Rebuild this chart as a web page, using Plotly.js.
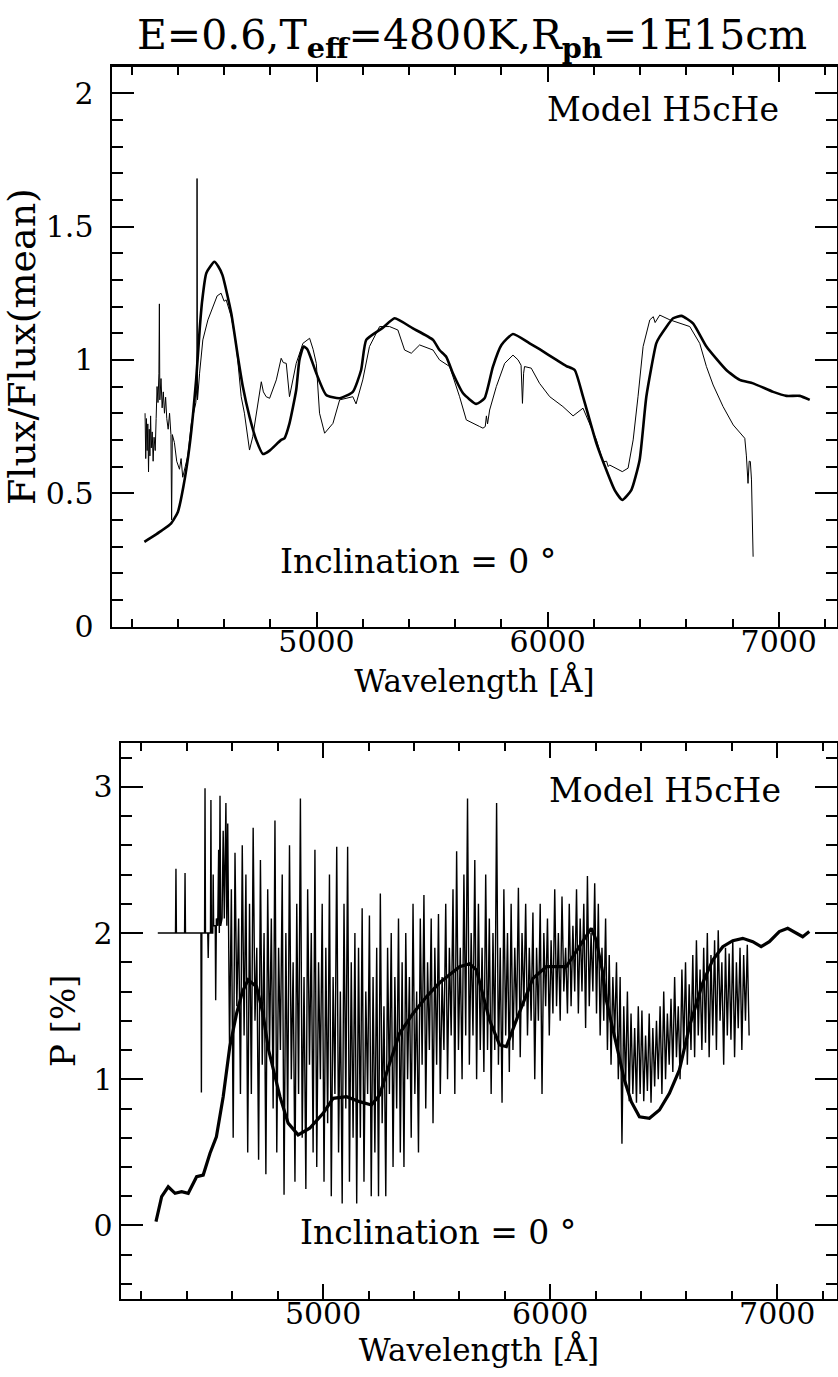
<!DOCTYPE html>
<html>
<head>
<meta charset="utf-8">
<script src="https://cdn.plot.ly/plotly-3.0.1.min.js"></script>
<style>html,body{margin:0;padding:0;background:#fff;}#chart{width:838px;height:1377px;}</style>
</head>
<body>
<div id="chart"></div>
<script>
// ---------- Top panel: normalised flux ----------
const fluxModelLam = [4255,4330,4371,4400,4424,4452,4479,4494,4505,4523,4558,4575,4593,4631,4660,4681,4710,4739,4768,4797,4847,4861,4883,4912,4926,4944,4960,4999,5042,5100,5157,5193,5215,5286,5338,5417,5504,5532,5561,5590,5634,5691,5727,5763,5800,5850,5922,5965,6038,6081,6117,6153,6211,6254,6290,6323,6362,6398,6427,6470,6485,6543,6579,6629,6687,6773,6831,6889,6976,7033,7091,7134];
const fluxModel = [0.318,0.36,0.387,0.43,0.525,0.687,0.925,1.11,1.22,1.325,1.368,1.35,1.318,1.175,1.01,0.90,0.787,0.70,0.647,0.66,0.70,0.706,0.762,0.887,1.0,1.05,1.04,0.95,0.868,0.856,0.88,0.962,1.075,1.12,1.156,1.118,1.075,1.037,1.012,0.95,0.875,0.835,0.856,0.974,1.056,1.097,1.062,1.04,1.0,0.977,0.962,0.862,0.687,0.587,0.512,0.475,0.512,0.625,0.862,1.062,1.087,1.156,1.165,1.137,1.05,0.962,0.925,0.912,0.88,0.865,0.865,0.85];

const fluxObsLam = [4258,4261,4264,4267,4270,4273,4276,4279,4282,4285,4289,4293,4297,4302,4306,4310,4314,4318,4320,4322,4327,4332,4337,4342,4347,4352,4358,4364,4370,4373,4376,4385,4395,4407,4414,4421,4432,4443,4458,4468,4478,4482,4483,4485,4494,4508,4530,4551,4570,4587,4600,4609,4631,4652,4674,4688,4710,4724,4739,4761,4770,4782,4797,4826,4847,4856,4869,4876,4883,4912,4941,4970,4985,4999,5013,5035,5071,5100,5157,5171,5200,5229,5273,5316,5352,5381,5410,5446,5504,5532,5576,5619,5648,5706,5720,5730,5735,5740,5749,5778,5814,5850,5872,5885,5891,5896,5900,5929,5965,6009,6066,6110,6153,6211,6240,6255,6262,6268,6297,6323,6348,6370,6391,6413,6442,6457,6465,6485,6529,6571,6615,6658,6687,6716,6759,6803,6853,6860,6867,6872,6877,6882,6889];
const fluxObs = [0.80,0.63,0.78,0.66,0.76,0.58,0.74,0.64,0.79,0.67,0.73,0.62,0.71,0.66,0.78,0.90,0.84,0.95,1.21,0.85,0.93,0.82,0.88,0.80,0.86,0.78,0.74,0.80,0.72,0.40,0.72,0.69,0.62,0.59,0.63,0.56,0.60,0.64,0.76,0.80,0.84,0.90,1.68,0.85,0.95,1.075,1.15,1.20,1.24,1.25,1.22,1.225,1.162,1.062,0.862,0.80,0.662,0.712,0.80,0.918,0.88,0.862,0.856,0.925,1.006,0.99,0.987,0.93,0.862,0.987,1.062,1.081,1.04,0.987,0.80,0.725,0.762,0.85,0.862,0.835,0.925,1.05,1.125,1.125,1.112,1.037,1.025,1.056,1.037,1.0,0.975,0.862,0.775,0.75,0.744,0.75,0.79,0.76,0.812,0.90,0.987,1.018,1.0,0.98,0.837,0.95,0.975,0.969,0.912,0.862,0.825,0.79,0.819,0.70,0.618,0.62,0.60,0.606,0.594,0.581,0.594,0.70,0.862,1.05,1.15,1.162,1.14,1.168,1.15,1.137,1.125,1.062,0.975,0.906,0.825,0.756,0.706,0.64,0.537,0.62,0.619,0.55,0.262];

// ---------- Bottom panel: polarisation ----------
const polModelLam = [4264,4289,4318,4348,4377,4406,4443,4472,4502,4530,4560,4589,4619,4645,4670,4707,4735,4760,4810,4846,4890,4941,5000,5044,5103,5161,5213,5249,5293,5337,5396,5455,5513,5560,5601,5645,5675,5733,5777,5807,5851,5924,5983,6071,6129,6181,6202,6232,6247,6291,6327,6357,6393,6437,6481,6525,6569,6613,6672,6716,6760,6804,6848,6892,6929,6965,7009,7046,7083,7112,7141];
const polModel = [0.026,0.197,0.265,0.22,0.231,0.22,0.334,0.345,0.494,0.607,0.881,1.223,1.45,1.60,1.68,1.633,1.45,1.20,0.881,0.70,0.62,0.665,0.767,0.87,0.881,0.847,0.824,0.893,1.11,1.315,1.45,1.565,1.66,1.72,1.77,1.79,1.748,1.405,1.235,1.223,1.405,1.69,1.77,1.77,1.907,2.033,1.953,1.725,1.542,1.246,0.995,0.847,0.744,0.733,0.79,0.904,1.064,1.36,1.66,1.816,1.907,1.948,1.964,1.941,1.907,1.941,2.01,2.033,1.999,1.975,2.01];

// observed polarisation: flat start, then the noisy spectrum
const polObsLam = [4272,4350,4352,4354,4390,4392,4394,4462,4464,4466,4478,4480,4482,4492,4494,4496,4504,4506,4508,4514,4516,4518,4525,4527,4530,4536,4540,4543,4546,4549,4555,4560,4565,4572,4576,
4580,4588,4596,4604,4612,4620,4628,4636,4644,4652,4660,4668,
4676,4684,4692,4700,4708,4716,4724,4732,4740,4748,4756,4764,
4772,4780,4788,4796,4804,4812,4820,4828,4836,4844,4852,4860,
4868,4876,4884,4892,4900,4908,4916,4924,4932,4940,4948,4956,
4964,4972,4980,4988,4996,5004,5012,5020,5028,5036,5044,5052,
5060,5068,5076,5084,5092,5100,5108,5116,5124,5132,5140,5148,
5156,5164,5172,5180,5188,5196,5204,5212,5220,5228,5236,5244,
5252,5260,5268,5276,5284,5292,5300,5308,5316,5324,5332,5340,
5348,5356,5364,5372,5380,5388,5396,5404,5412,5420,5428,5436,
5444,5452,5460,5468,5476,5484,5492,5500,5508,5516,5524,5532,
5540,5548,5556,5564,5572,5580,5588,5596,5604,5612,5620,5628,
5636,5644,5652,5660,5668,5676,5684,5692,5700,5708,5716,5724,
5732,5740,5748,5756,5764,5772,5780,5788,5796,5804,5812,5820,
5828,5836,5844,5852,5860,5868,5876,5884,5892,5900,5908,5916,
5924,5932,5940,5948,5956,5964,5972,5980,5988,5996,6004,6012,
6020,6028,6036,6044,6052,6060,6068,6076,6084,6092,6100,6108,
6116,6124,6132,6140,6148,6156,6164,6172,6180,6188,6196,6204,
6212,6220,6228,6236,6244,6252,6260,6268,6276,6284,6292,6300,
6308,6316,6324,6332,6340,6348,6356,6364,6372,6380,6388,6396,
6404,6412,6420,6428,6436,6444,6452,6460,6468,6476,6484,6492,
6500,6508,6516,6524,6532,6540,6548,6556,6564,6572,6580,6588,
6596,6604,6612,6620,6628,6636,6644,6652,6660,6668,6676,6684,
6692,6700,6708,6716,6724,6732,6740,6748,6756,6764,6772,6780,
6788,6796,6804,6812,6820,6828,6836,6844,6852,6860,6868,6876];
const polObs = [2.0,2.0,2.44,2.0,2.0,2.41,2.0,2.0,0.91,2.0,2.0,2.99,2.0,2.0,1.83,2.0,2.0,2.91,2.0,2.0,2.4,2.05,2.05,1.54,2.1,2.05,2.57,2.0,2.94,2.05,2.1,2.7,2.1,2.89,2.05,
2.75,1.2,2.3,0.6,2.55,1.5,2.1,0.9,2.6,1.3,2.4,0.5,
2.2,0.9,2.72,1.4,1.9,0.45,2.5,1.1,2.0,0.35,2.3,1.2,
2.1,0.8,2.77,0.5,1.9,1.2,2.4,0.21,2.0,0.7,2.6,1.0,
1.8,0.3,2.2,0.9,2.92,0.6,1.7,0.25,2.3,1.1,2.0,0.5,
2.57,0.4,1.8,1.0,2.2,0.3,1.9,0.7,2.4,0.2,1.7,0.9,
2.59,0.5,1.6,0.15,2.2,0.8,2.59,0.3,1.8,0.6,2.0,0.15,
1.9,0.6,2.17,0.3,1.6,0.9,2.12,0.2,1.7,0.5,1.9,0.2,
2.27,0.7,1.5,0.2,1.9,0.9,2.0,0.4,1.7,0.8,2.1,0.5,
1.8,0.4,2.0,1.0,1.7,0.6,2.2,0.9,1.6,0.5,2.1,1.1,
2.26,0.8,1.8,1.2,2.1,0.7,1.9,1.1,2.13,0.9,1.7,1.2,
2.2,1.0,1.9,1.3,2.3,0.9,2.56,1.2,1.9,1.0,2.4,1.3,
2.92,1.1,2.0,1.3,2.5,1.0,2.2,1.2,1.9,1.05,2.4,1.2,
2.1,0.9,2.0,1.2,2.89,1.1,1.9,0.84,2.3,1.3,2.0,1.05,
2.2,1.2,1.9,1.4,2.31,1.15,2.0,1.5,2.2,1.3,1.9,1.4,
2.14,1.0,1.9,1.4,2.2,0.9,2.0,1.5,2.1,1.3,1.95,1.45,
2.3,1.5,2.0,1.4,2.25,1.6,1.9,1.45,2.2,1.5,2.05,1.6,
2.3,1.45,2.1,1.6,2.2,1.35,2.39,1.5,2.0,1.6,2.34,1.45,
2.2,1.3,1.9,1.4,2.1,1.2,1.85,1.1,1.7,1.3,1.8,1.0,
1.7,0.56,1.5,0.95,1.6,0.85,1.45,0.9,1.35,0.84,1.5,0.9,
1.47,0.85,1.3,0.92,1.45,0.84,1.35,0.95,1.4,1.0,1.5,0.9,
1.6,1.0,1.45,1.1,1.55,1.05,1.7,1.15,1.5,1.0,1.75,1.2,
1.8,1.1,1.65,1.2,1.85,1.15,1.95,1.3,1.75,1.2,1.9,1.25,
2.0,1.15,1.85,1.3,1.95,1.2,2.02,1.4,1.8,1.1,1.9,1.3,
1.86,1.27,1.95,1.15,1.8,1.35,1.9,1.2,1.85,1.4,1.92,1.3];

// ---------- Text ----------
const titleText = 'E=0.6,T<sub><b>eff</b></sub>=4800K,R<sub><b>ph</b></sub>=1E15cm';
const modelLabel = 'Model H5cHe';
const inclLabel = 'Inclination = 0 °';
const xLabel = 'Wavelength [Å]';
const yLabelTop = 'Flux/Flux(mean)';
const yLabelBottom = 'P [%]';

const FONT = 'DejaVu Serif';
const W = 838, H = 1377;
const px = v => v / W;
const py = v => 1 - v / H;

const traces = [
  {x: fluxObsLam, y: fluxObs, type: 'scatter', mode: 'lines', line: {color: '#000', width: 1}, xaxis: 'x', yaxis: 'y', hoverinfo: 'skip'},
  {x: fluxModelLam, y: fluxModel, type: 'scatter', mode: 'lines', line: {color: '#000', width: 2.6, shape: 'spline', smoothing: 0.5}, xaxis: 'x', yaxis: 'y', hoverinfo: 'skip'},
  {x: polObsLam, y: polObs, type: 'scatter', mode: 'lines', line: {color: '#000', width: 1.4}, xaxis: 'x2', yaxis: 'y2', hoverinfo: 'skip'},
  {x: polModelLam, y: polModel, type: 'scatter', mode: 'lines', line: {color: '#000', width: 3.2}, xaxis: 'x2', yaxis: 'y2', hoverinfo: 'skip'}
];

const tickFont = {family: FONT, size: 30, color: '#000'};
const xCommon = {
  showline: true, linecolor: '#000', linewidth: 2.5, mirror: 'allticks',
  ticks: 'inside', ticklen: 15, tickwidth: 2, tickcolor: '#000',
  dtick: 1000, tick0: 0, showgrid: false, zeroline: false,
  minor: {ticks: 'inside', ticklen: 8, tickwidth: 2, tickcolor: '#000', dtick: 200, showgrid: false},
  tickfont: tickFont, ticklabelstandoff: -13
};
const yCommon = {
  showline: true, linecolor: '#000', linewidth: 2.5, mirror: 'allticks',
  ticks: 'inside', ticklen: 22, tickwidth: 2, tickcolor: '#000',
  showgrid: false, zeroline: false,
  tickfont: tickFont
};

const layout = {
  width: W, height: H,
  margin: {l: 0, r: 0, t: 0, b: 0},
  paper_bgcolor: '#fff', plot_bgcolor: '#fff',
  showlegend: false,
  font: {family: FONT, color: '#000'},
  title: {text: titleText, font: {family: FONT, size: 41, color: '#000'}, x: px(472), xanchor: 'center', xref: 'paper', y: py(35), yanchor: 'middle', yref: 'paper'},
  xaxis: Object.assign({}, xCommon, {domain: [px(112), px(837)], range: [4115, 7252], anchor: 'y',
    title: {text: xLabel, font: {family: FONT, size: 31, color: '#000'}, standoff: 12}}),
  yaxis: Object.assign({}, yCommon, {domain: [py(626.6), py(66.5)], range: [0, 2.1], anchor: 'x', dtick: 0.5, tick0: 0,
    ticklabelstandoff: 10,
    minor: {ticks: 'inside', ticklen: 11, tickwidth: 2, tickcolor: '#000', dtick: 0.1, showgrid: false},
    title: {text: yLabelTop, font: {family: FONT, size: 38, color: '#000'}, standoff: 2}}),
  xaxis2: Object.assign({}, xCommon, {domain: [px(121), px(837)], range: [4110, 7263], anchor: 'y2',
    title: {text: xLabel, font: {family: FONT, size: 31, color: '#000'}, standoff: 8}}),
  yaxis2: Object.assign({}, yCommon, {domain: [py(1298.6), py(743)], range: [-0.5, 3.3], anchor: 'x2', dtick: 1, tick0: 0,
    ticklabelstandoff: 0,
    minor: {ticks: 'inside', ticklen: 11, tickwidth: 2, tickcolor: '#000', dtick: 0.2, showgrid: false},
    title: {text: yLabelBottom, font: {family: FONT, size: 34, color: '#000'}, standoff: 8}}),
  annotations: [
    {text: modelLabel, xref: 'paper', yref: 'paper', x: px(781), y: py(110), xanchor: 'right', yanchor: 'middle', showarrow: false, font: {family: FONT, size: 33, color: '#000'}},
    {text: inclLabel, xref: 'paper', yref: 'paper', x: px(418), y: py(561), xanchor: 'center', yanchor: 'middle', showarrow: false, font: {family: FONT, size: 33, color: '#000'}},
    {text: modelLabel, xref: 'paper', yref: 'paper', x: px(783), y: py(790), xanchor: 'right', yanchor: 'middle', showarrow: false, font: {family: FONT, size: 33, color: '#000'}},
    {text: inclLabel, xref: 'paper', yref: 'paper', x: px(438), y: py(1232), xanchor: 'center', yanchor: 'middle', showarrow: false, font: {family: FONT, size: 33, color: '#000'}}
  ]
};

Plotly.newPlot('chart', traces, layout, {staticPlot: true, displayModeBar: false});
</script>
</body>
</html>
